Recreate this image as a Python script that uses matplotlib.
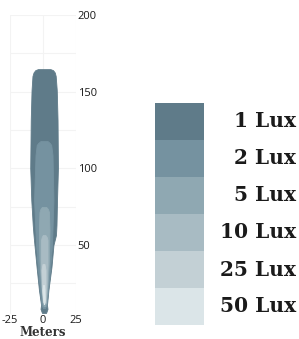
import matplotlib
matplotlib.use("Agg")
import matplotlib.pyplot as plt
import matplotlib.transforms as mtransforms

plt.rcParams['axes.unicode_minus'] = False

# ---- data: light contours (distance in meters) ----
lux_labels = ["1 Lux", "2 Lux", "5 Lux", "10 Lux", "25 Lux", "50 Lux"]
lux_colors = ["#5f7b89", "#7592a0", "#8fa8b2", "#a8bbc3", "#c3d0d5", "#dbe5e8"]

lux1_y = [164.7, 164.0, 162.5, 160.2, 151.0, 131.5, 100.2, 79.3, 63.0, 56.5, 50.0, 35.7, 20.7, 10.9, 8.3, 5.7]
lux1_l = [-3.5, -5.5, -6.8, -7.6, -8.3, -8.9, -9.3, -8.5, -7.4, -6.8, -6.1, -4.5, -2.7, -1.1, -1.5, -0.4]
lux1_r = [6.0, 8.0, 9.3, 10.0, 10.8, 11.4, 11.7, 11.0, 10.6, 10.2, 8.3, 6.8, 4.5, 3.4, 3.8, 2.7]

lux2_y = [117.8, 116.5, 115.2, 108.7, 79.3, 50.0, 33.7, 20.7, 10.9, 8.9]
lux2_l = [-1.5, -3.3, -4.4, -5.3, -6.4, -4.9, -3.4, -1.9, -0.8, 0.4]
lux2_r = [3.8, 5.6, 6.6, 7.6, 8.3, 7.2, 5.7, 4.2, 3.0, 1.9]

lux5_y = [74.8, 73.5, 71.5, 59.8, 40.2, 23.9, 12.8, 10.2]
lux5_l = [-0.5, -1.6, -2.3, -2.7, -2.3, -1.1, 0.0, 0.8]
lux5_r = [2.8, 4.1, 4.9, 5.3, 4.9, 3.8, 2.7, 1.9]

lux10_y = [56.5, 55.2, 53.3, 37.0, 20.7, 12.2]
lux10_l = [0.2, -0.6, -1.1, -1.1, -0.4, 0.8]
lux10_r = [2.2, 3.2, 3.8, 3.8, 3.0, 2.3]

lux25_y = [37.6, 33.7, 20.7, 12.8]
lux25_l = [0.0, -0.8, -0.4, 0.5]
lux25_r = [1.5, 2.3, 2.3, 1.9]

lux50_y = [23.9, 20.7, 14.1, 11.5]
lux50_l = [0.4, 0.0, 0.5, 1.0]
lux50_r = [1.1, 1.5, 1.7, 1.3]

x_ticks = [-25, 0, 25]
y_ticks = [50, 100, 150, 200]
x_label = "Meters"

W, H = 299, 339
fig = plt.figure(figsize=(W / 100, H / 100), dpi=100)

ax = fig.add_axes([9.5 / W, (H - 314) / H, 66 / W, 299 / H])
ax.set_xlim(-25, 25)
ax.set_ylim(5, 200)

contours = [
    (lux1_y, lux1_l, lux1_r),
    (lux2_y, lux2_l, lux2_r),
    (lux5_y, lux5_l, lux5_r),
    (lux10_y, lux10_l, lux10_r),
    (lux25_y, lux25_l, lux25_r),
    (lux50_y, lux50_l, lux50_r),
]
for (yy, ll, rr), c in zip(contours, lux_colors):
    ax.fill_betweenx(yy, ll, rr, color=c, lw=0.6, edgecolor=c, zorder=3)

for g in range(25, 201, 25):
    ax.axhline(g, color="#f3f3f3", lw=0.8, zorder=1)
for g in x_ticks:
    ax.axvline(g, color="#f3f3f3", lw=0.8, zorder=1)

for s in ax.spines.values():
    s.set_visible(False)
ax.set_xticks(x_ticks)
ax.set_xticklabels([str(v) for v in x_ticks], fontfamily="Open Sans", fontsize=8, color="#1a1a1a")
ax.set_yticks(y_ticks)
ax.set_yticklabels([str(v) for v in y_ticks], fontfamily="Open Sans", fontsize=8, color="#1a1a1a")
ax.yaxis.tick_right()
ax.tick_params(axis="both", length=0)
ax.tick_params(axis="x", pad=1.0)
ax.tick_params(axis="y", pad=1.5)
ax.set_xlabel(x_label, fontfamily="DejaVu Serif", fontsize=8.5, fontweight="bold", color="#333333", labelpad=0.0)

# ---- legend ----
lax = fig.add_axes([155 / W, (H - 325) / H, 49 / W, 222 / H])
pos = list(range(len(lux_labels)))
lax.bar([0] * len(pos), [1] * len(pos), bottom=pos, width=1, color=lux_colors, align="center")
lax.set_xlim(-0.5, 0.5)
lax.set_ylim(len(pos), 0)
lax.axis("off")
trans = mtransforms.blended_transform_factory(fig.transFigure, lax.transData)
for p, lab in zip(pos, lux_labels):
    fig.text(296 / W, p + 0.5, lab, transform=trans, ha="right", va="center",
             fontfamily="DejaVu Serif", fontweight="bold", fontsize=14.5, color="#1a1a1a")

fig.savefig("out.png", dpi=100, facecolor="white")
